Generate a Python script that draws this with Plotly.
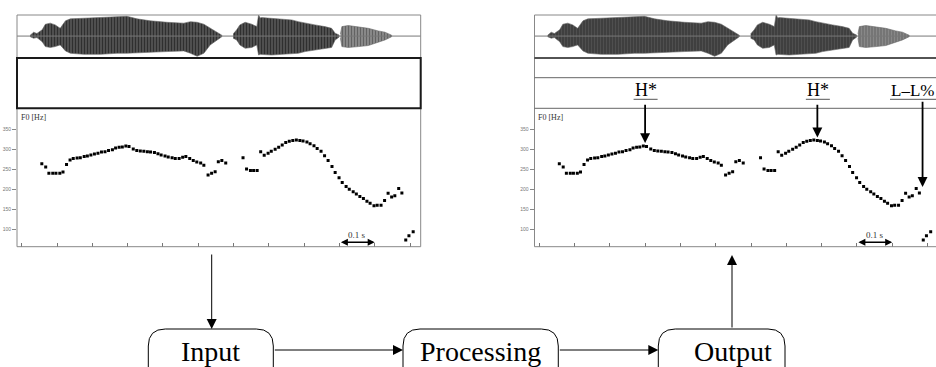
import plotly.graph_objects as go

W, H = 936, 367

# ---- F0 contour, 10 ms frames (time in s, F0 in Hz) ----
f0_time = [0.057, 0.068, 0.077, 0.088, 0.097, 0.108, 0.117, 0.127, 0.137, 0.146,
           0.157, 0.166, 0.177, 0.186, 0.196, 0.206, 0.216, 0.226, 0.236, 0.246,
           0.257, 0.266, 0.276, 0.285, 0.295, 0.304, 0.316, 0.326, 0.336, 0.346,
           0.356, 0.365, 0.376, 0.386, 0.395, 0.406, 0.415, 0.426, 0.435, 0.446,
           0.456, 0.465, 0.476, 0.486, 0.496, 0.507, 0.516, 0.528, 0.538, 0.548,
           0.557, 0.567, 0.578,
           0.627, 0.637, 0.648, 0.657, 0.667,
           0.677, 0.687, 0.698, 0.707, 0.718, 0.728, 0.738, 0.748, 0.758, 0.768,
           0.778, 0.788, 0.797, 0.808, 0.817, 0.828, 0.837, 0.848, 0.858, 0.868,
           0.879, 0.888, 0.899, 0.908, 0.919, 0.928, 0.939, 0.948, 0.958, 0.968,
           0.978, 0.987, 0.998, 1.007, 1.018, 1.028, 1.038, 1.048, 1.057, 1.068,
           1.077, 1.088, 1.097, 1.109]
f0_hz = [264, 256, 240, 240, 240, 240, 243, 262, 273, 277,
         278, 279, 282, 283, 286, 288, 290, 293, 294, 297,
         299, 303, 305, 306, 308, 307, 301, 297, 296, 295,
         294, 293, 292, 289, 286, 283, 281, 279, 277, 277,
         280, 282, 277, 272, 268, 266, 260, 236, 240, 244,
         269, 272, 266,
         279, 251, 247, 247, 247,
         294, 285, 290, 295, 300, 305, 311, 317, 320, 322,
         323, 322, 321, 318, 314, 309, 302, 295, 284, 272,
         257, 242, 229, 217, 207, 200, 194, 188, 182, 177,
         170, 165, 159, 160, 160, 172, 190, 181, 184, 202,
         191, 73, 84, 94]
f0_ticks = [100, 150, 200, 250, 300, 350]

# ---- waveform amplitude envelope, three voiced stretches ----
wave1_time = [0.024, 0.034, 0.043, 0.058, 0.067, 0.081, 0.095, 0.109, 0.124, 0.138,
              0.176, 0.223, 0.270, 0.298, 0.327, 0.364, 0.412, 0.459, 0.478, 0.497,
              0.516, 0.534, 0.553, 0.567]
wave1_up = [0.04, 0.18, 0.12, 0.29, 0.55, 0.60, 0.52, 0.36, 0.71, 0.80,
            0.83, 0.86, 0.92, 0.92, 0.80, 0.71, 0.64, 0.60, 0.67, 0.64,
            0.55, 0.36, 0.18, 0.04]
wave1_lo = [-0.03, -0.10, -0.07, -0.26, -0.49, -0.53, -0.49, -0.41, -0.69, -0.80,
            -0.85, -0.85, -0.80, -0.80, -0.80, -0.75, -0.72, -0.69, -0.80, -0.94,
            -0.80, -0.41, -0.18, -0.03]
wave2_time = [0.599, 0.609, 0.618, 0.633, 0.652, 0.666, 0.671, 0.676, 0.680, 0.708,
              0.737, 0.765, 0.784, 0.803, 0.831, 0.859, 0.878, 0.888, 0.899]
wave2_up = [0.10, 0.29, 0.52, 0.64, 0.55, 0.44, 0.98, 0.84, 0.86, 0.83,
            0.80, 0.75, 0.67, 0.60, 0.52, 0.44, 0.36, 0.13, 0.05]
wave2_lo = [-0.10, -0.18, -0.41, -0.57, -0.53, -0.41, -0.88, -0.85, -0.85, -0.88,
            -0.85, -0.81, -0.80, -0.72, -0.64, -0.57, -0.53, -0.18, -0.05]
wave3_time = [0.903, 0.907, 0.925, 0.954, 0.982, 1.010, 1.029, 1.048]
wave3_up = [0.10, 0.44, 0.49, 0.44, 0.36, 0.24, 0.18, 0.04]
wave3_lo = [-0.10, -0.49, -0.53, -0.49, -0.44, -0.29, -0.18, -0.03]

# ---- tone labels on the annotated panel ----
tone_labels = ["H*", "H*", "L\u2013L%"]
tone_time = [0.300, 0.788, 1.086]
tone_hz = [308, 322, 206]

# ---- processing chain ----
stage_labels = ["Input", "Processing", "Output"]

# 0.1 s scale bar
scale_from, scale_to, scale_hz = 0.9, 1.0, 67.5

SERIF = "Liberation Serif"


def px(x):
    return x / W


def py(y):
    return 1 - y / H


# pixel geometry of the two panels
PX_PER_S = 353.0
panels = [
    dict(left=17.0, right=420.7, t0=21.7),
    dict(left=534.5, right=938.2, t0=539.2),
]
TOP, WAVE_BOT, TIER1, TIER2, F0_BOT = 15.0, 58.0, 77.7, 108.3, 246.7
HZ_TOP = 300 + (149.3 - TIER2) * 2.5
HZ_BOT = 300 - (F0_BOT - 149.3) * 2.5

fig = go.Figure()

waves = [
    (wave1_time, wave1_up, wave1_lo, "#000000", "#5e5e5e"),
    (wave2_time, wave2_up, wave2_lo, "#000000", "#5e5e5e"),
    (wave3_time, wave3_up, wave3_lo, "#2a2a2a", "#9a9a9a"),
]

for i, p in enumerate(panels):
    fx = "x" if i == 0 else "x2"
    fy = "y" if i == 0 else "y2"
    wx = "x3" if i == 0 else "x4"
    wy = "y3" if i == 0 else "y4"
    for t, up, lo, fg, bg in waves:
        fig.add_trace(go.Scatter(
            x=t + t[::-1], y=up + lo[::-1], xaxis=wx, yaxis=wy,
            mode="lines", fill="toself", line=dict(width=0.6, color="#666"),
            fillcolor=bg,
            fillpattern=dict(shape="|", fgcolor=fg, bgcolor=bg, size=3, solidity=0.55),
            hoverinfo="skip", showlegend=False))
    fig.add_trace(go.Scatter(
        x=f0_time, y=f0_hz, xaxis=fx, yaxis=fy, mode="markers",
        marker=dict(symbol="square", size=3, color="black", line=dict(width=0)),
        hoverinfo="skip", showlegend=False))

layout_axes = {}
for i, p in enumerate(panels):
    x_lo = (p["left"] - p["t0"]) / PX_PER_S
    right_px = min(p["right"], W)
    x_hi = (right_px - p["t0"]) / PX_PER_S
    dom = [px(p["left"]), px(right_px)]
    fxn = "xaxis" if i == 0 else "xaxis2"
    fyn = "yaxis" if i == 0 else "yaxis2"
    wxn = "xaxis3" if i == 0 else "xaxis4"
    wyn = "yaxis3" if i == 0 else "yaxis4"
    fya = "y" if i == 0 else "y2"
    fxa = "x" if i == 0 else "x2"
    wya = "y3" if i == 0 else "y4"
    wxa = "x3" if i == 0 else "x4"
    layout_axes[fxn] = dict(domain=dom, range=[x_lo, x_hi], anchor=fya,
                            showgrid=False, zeroline=False, showline=False,
                            ticks="inside", tick0=0, dtick=0.1, ticklen=4,
                            tickcolor="#777", tickwidth=1, showticklabels=False)
    layout_axes[fyn] = dict(domain=[py(F0_BOT), py(TIER2)], range=[HZ_BOT, HZ_TOP],
                            anchor=fxa, showgrid=False, zeroline=False, showline=False,
                            ticks="outside", tickvals=f0_ticks, ticklen=4,
                            tickcolor="#888", tickwidth=1,
                            tickfont=dict(family="Liberation Sans Narrow, Liberation Sans",
                                          size=5, color="#777"))
    layout_axes[wxn] = dict(domain=dom, range=[x_lo, x_hi], anchor=wya, visible=False)
    layout_axes[wyn] = dict(domain=[py(WAVE_BOT), py(TOP)], range=[-1.02, 0.98],
                            anchor=wxa, visible=False)

shapes = []
annotations = []
for i, p in enumerate(panels):
    L, R = px(p["left"]), px(p["right"])
    wxa = "x3" if i == 0 else "x4"
    wya = "y3" if i == 0 else "y4"
    # waveform zero line
    shapes.append(dict(type="line", xref=wxa + " domain", x0=0, x1=1, yref=wya,
                       y0=0, y1=0, line=dict(color="#777", width=1)))
    # outer frame
    shapes.append(dict(type="rect", xref="paper", yref="paper", x0=L, x1=R,
                       y0=py(F0_BOT), y1=py(TOP), line=dict(color="#888", width=1)))
    if i == 0:
        shapes.append(dict(type="rect", xref="paper", yref="paper", x0=L, x1=R,
                           y0=py(TIER2), y1=py(WAVE_BOT),
                           line=dict(color="#1a1a1a", width=2)))
    else:
        shapes.append(dict(type="line", xref="paper", yref="paper", x0=L, x1=R,
                           y0=py(WAVE_BOT), y1=py(WAVE_BOT),
                           line=dict(color="#1a1a1a", width=1.6)))
        for yy in (TIER1, TIER2):
            shapes.append(dict(type="line", xref="paper", yref="paper", x0=L, x1=R,
                               y0=py(yy), y1=py(yy), line=dict(color="#666", width=1)))
    annotations.append(dict(text="F0 [Hz]", xref="paper", yref="paper",
                            x=px(p["left"] + 1.5), y=py(117.7), xanchor="left",
                            yanchor="middle", showarrow=False,
                            font=dict(family=SERIF, size=8, color="#333")))
    fxa = "x" if i == 0 else "x2"
    fya = "y" if i == 0 else "y2"
    annotations.append(dict(text="", xref=fxa, yref=fya, axref=fxa, ayref=fya,
                            x=scale_to, y=scale_hz, ax=scale_from, ay=scale_hz,
                            showarrow=True, arrowside="end+start", arrowhead=2,
                            arrowsize=1, arrowwidth=1.4, arrowcolor="black"))
    annotations.append(dict(text="0.1 s", xref=fxa, yref=fya,
                            x=(scale_from + scale_to) / 2, y=scale_hz,
                            yshift=7, showarrow=False,
                            font=dict(family=SERIF, size=9, color="#333")))

# tone labels with arrows pointing into the F0 contour
label_under_y = 99.3
right = panels[1]
for k, (lab, t, hz) in enumerate(zip(tone_labels, tone_time, tone_hz)):
    cx = right["t0"] + t * PX_PER_S
    if k < 2:
        annotations.append(dict(text=lab, xref="paper", yref="paper", x=px(cx + 1),
                                y=py(label_under_y), xanchor="center", yanchor="bottom",
                                showarrow=False, yshift=-3,
                                font=dict(family=SERIF, size=18, color="black")))
        ux0, ux1 = cx - 11.5, cx + 12.5
    else:
        annotations.append(dict(text=lab, xref="paper", yref="paper", x=px(889.0),
                                y=py(label_under_y), xanchor="left", yanchor="bottom",
                                showarrow=False, yshift=-3,
                                font=dict(family=SERIF, size=17, color="black")))
        ux0, ux1 = 890.0, 936.0
    shapes.append(dict(type="line", xref="paper", yref="paper", x0=px(ux0), x1=px(ux1),
                       y0=py(label_under_y), y1=py(label_under_y),
                       line=dict(color="#555", width=1)))
    y_tip = 149.3 - (hz - 300) / 2.5
    standoff = 3 if k < 2 else 0
    annotations.append(dict(text="", xref="x2", yref="y2", x=t, y=hz,
                            ax=0, ay=-(y_tip - standoff - label_under_y - 1),
                            standoff=standoff, showarrow=True, arrowhead=2,
                            arrowsize=1.1, arrowwidth=1.8, arrowcolor="black"))

# processing chain boxes
boxes = [(148.3, 273.3), (403.0, 558.3), (658.3, 785.0)]
BOX_TOP, BOX_BOT, R_CORNER = 329.0, 392.0, 17.0


def rounded(x0, y0, x1, y1, r):
    pts = [
        ("M", [(x0 + r, y0)]), ("L", [(x1 - r, y0)]), ("Q", [(x1, y0), (x1, y0 + r)]),
        ("L", [(x1, y1 - r)]), ("Q", [(x1, y1), (x1 - r, y1)]), ("L", [(x0 + r, y1)]),
        ("Q", [(x0, y1), (x0, y1 - r)]), ("L", [(x0, y0 + r)]),
        ("Q", [(x0, y0), (x0 + r, y0)]),
    ]
    s = ""
    for cmd, ps in pts:
        s += cmd + " ".join(f"{px(a):.5f},{py(b):.5f}" for a, b in ps) + " "
    return s + "Z"


for (x0, x1), lab in zip(boxes, stage_labels):
    shapes.append(dict(type="path", xref="paper", yref="paper",
                       path=rounded(x0, BOX_TOP, x1, BOX_BOT, R_CORNER),
                       line=dict(color="black", width=1)))
    annotations.append(dict(text=lab, xref="paper", yref="paper",
                            x=px((x0 + x1) / 2 + (11 if lab == "Output" else 0)),
                            y=py(351), xanchor="center", yanchor="middle",
                            showarrow=False,
                            font=dict(family=SERIF, size=28, color="black")))

flow_y = 350.0
arrows = [
    (211.7, BOX_TOP, 0, -(BOX_TOP - 253.0)),
    (boxes[1][0], flow_y, -(boxes[1][0] - boxes[0][1]), 0),
    (boxes[2][0], flow_y, -(boxes[2][0] - boxes[1][1]), 0),
    (732.0, 255.0, 0, BOX_TOP - 255.0),
]
for x, y, ax, ay in arrows:
    annotations.append(dict(text="", xref="paper", yref="paper", x=px(x), y=py(y),
                            ax=ax, ay=ay, showarrow=True, arrowhead=2, arrowsize=2,
                            arrowwidth=1, arrowcolor="black"))

fig.update_layout(
    width=W, height=H, margin=dict(l=0, r=0, t=0, b=0),
    paper_bgcolor="white", plot_bgcolor="rgba(0,0,0,0)",
    showlegend=False, shapes=shapes, annotations=annotations,
    **layout_axes,
)

fig.write_html("out.html")
